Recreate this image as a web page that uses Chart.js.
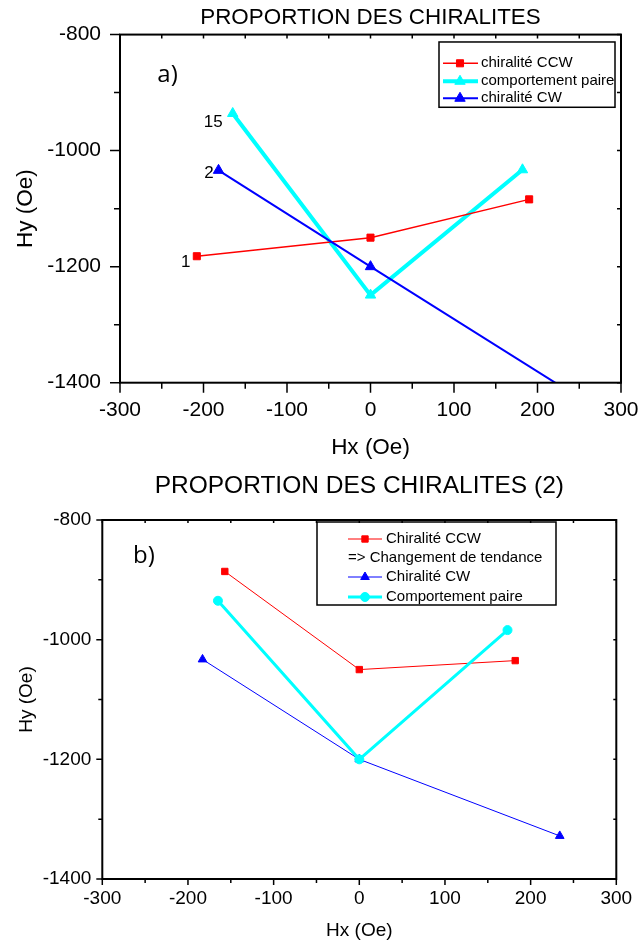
<!DOCTYPE html>
<html lang="fr">
<head>
<meta charset="utf-8">
<title>Proportion des chiralités</title>
<script src="https://cdn.jsdelivr.net/npm/chart.js@4/dist/chart.umd.min.js"></script>
<style>
	body { margin: 0; background: #fff; }
	#page { position: relative; width: 639px; height: 942px; }
	#page canvas { position: absolute; left: 0; }
	#chartA { top: 0; }
	#chartB { top: 470px; }
</style>
</head>
<body>
<div id="page">
	<canvas id="chartA" width="639" height="470"></canvas>
	<canvas id="chartB" width="639" height="472"></canvas>
</div>
<script>
(function () {

	'use strict';

	// a) proportion des chiralites
	var titleA  = 'PROPORTION DES CHIRALITES';
	var panelA  = 'a)';
	var legendA = ['chiralité CCW', 'comportement paire', 'chiralité CW'];
	var hxCcwA  = [-208, 0, 190];
	var hyCcwA  = [-1182, -1150, -1084];
	var hxPairA = [-165, 0, 182];
	var hyPairA = [-936, -1249, -1033];
	var hxCwA   = [-182, 0, 250];
	var hyCwA   = [-1034, -1200, -1426];
	var notesA  = ['1', '15', '2'];

	// b) proportion des chiralites (2)
	var titleB  = 'PROPORTION DES CHIRALITES (2)';
	var panelB  = 'b)';
	var legendB = ['Chiralité CCW', '=> Changement de tendance', 'Chiralité CW', 'Comportement paire'];
	var hxCcwB  = [-157, 0, 182];
	var hyCcwB  = [-886, -1050, -1035];
	var hxCwB   = [-183, 0, 234];
	var hyCwB   = [-1033, -1200, -1328];
	var hxPairB = [-165, 0, 173];
	var hyPairB = [-935, -1200, -984];

	// axes
	var hxTicks = [-300, -200, -100, 0, 100, 200, 300];
	var hyTicks = [-1400, -1200, -1000, -800];
	var hxTitle = 'Hx (Oe)';
	var hyTitle = 'Hy (Oe)';

	var FONT = '"Liberation Sans", Arial, sans-serif';
	Chart.defaults.font.family = FONT;
	Chart.defaults.color = '#000';

	function points(xs, ys) {
		return xs.map(function (x, i) {
			return {x: x, y: ys[i]};
		});
	}

	function series(label, xs, ys, color, width, style, radius, order) {
		return {
			label: label,
			data: points(xs, ys),
			showLine: true,
			borderColor: color,
			backgroundColor: color,
			pointBackgroundColor: color,
			pointBorderColor: color,
			borderWidth: width,
			pointStyle: style,
			pointRadius: radius,
			pointHoverRadius: radius,
			pointBorderWidth: 1,
			order: order
		};
	}

	function marker(ctx, ds, x, y) {
		var opts = {pointStyle: ds.pointStyle, radius: ds.pointRadius, rotation: 0, borderWidth: 1};
		ctx.fillStyle = ds.pointBackgroundColor;
		ctx.strokeStyle = ds.pointBorderColor;
		ctx.lineWidth = 1;
		Chart.helpers.drawPoint(ctx, opts, x, y);
	}

	// no extra room for overhanging tick labels, the plot box is fixed
	function noPadding(scale) {
		scale.paddingLeft = 0;
		scale.paddingRight = 0;
		scale.paddingTop = 0;
		scale.paddingBottom = 0;
	}

	// frame, tick marks, legend box and text notes
	function decoPlugin(cfg) {
		return {
			id: 'deco',
			afterDatasetsDraw: function (chart) {
				var ctx = chart.ctx;
				var area = chart.chartArea;
				var sx = chart.scales.x;
				var sy = chart.scales.y;
				var v, p, major;

				ctx.save();
				ctx.strokeStyle = '#000';
				ctx.lineWidth = 2;
				ctx.strokeRect(area.left, area.top, area.right - area.left, area.bottom - area.top);

				ctx.lineWidth = 1.5;
				ctx.beginPath();
				for (v = sx.min; v <= sx.max; v += 50) {
					p = sx.getPixelForValue(v);
					major = hxTicks.indexOf(v) !== -1;
					ctx.moveTo(p, area.bottom);
					ctx.lineTo(p, area.bottom + (major ? cfg.tickMajor : cfg.tickMinor));
					ctx.moveTo(p, area.top);
					ctx.lineTo(p, area.top + cfg.tickInner);
				}
				for (v = sy.min; v <= sy.max; v += 100) {
					p = sy.getPixelForValue(v);
					major = hyTicks.indexOf(v) !== -1;
					ctx.moveTo(area.left, p);
					ctx.lineTo(area.left - (major ? cfg.tickMajor : cfg.tickMinor), p);
					ctx.moveTo(area.right, p);
					ctx.lineTo(area.right - cfg.tickInner, p);
				}
				ctx.stroke();

				// legend
				var L = cfg.legend;
				var bx = area.left + L.left;
				var by = area.top + L.top;
				ctx.lineWidth = 1.5;
				ctx.strokeStyle = '#000';
				ctx.strokeRect(bx, by, L.width, L.height);
				ctx.font = L.font;
				ctx.textBaseline = 'middle';
				ctx.textAlign = 'left';
				L.items.forEach(function (item, i) {
					var y = by + L.rows[i];
					if (item.dataset === undefined) {
						ctx.fillStyle = '#000';
						ctx.fillText(item.text, bx + L.line[0], y);
						return;
					}
					var ds = chart.data.datasets[item.dataset];
					ctx.strokeStyle = ds.borderColor;
					ctx.lineWidth = ds.borderWidth;
					ctx.beginPath();
					ctx.moveTo(bx + L.line[0], y);
					ctx.lineTo(bx + L.line[1], y);
					ctx.stroke();
					marker(ctx, ds, bx + L.marker, y);
					ctx.fillStyle = '#000';
					ctx.fillText(ds.label, bx + L.text, y);
				});

				// panel letter
				ctx.fillStyle = '#000';
				ctx.textAlign = 'center';
				ctx.font = cfg.panel.font;
				ctx.fillText(cfg.panel.text, area.left + cfg.panel.dx, area.top + cfg.panel.dy);

				// numbers next to points
				(cfg.notes || []).forEach(function (n) {
					var pt = chart.getDatasetMeta(n.dataset).data[n.index];
					ctx.font = n.font;
					ctx.fillText(n.text, pt.x + n.dx, pt.y + n.dy);
				});
				ctx.restore();
			}
		};
	}

	function makeChart(id, title, datasets, box, deco) {
		return new Chart(document.getElementById(id), {
			type: 'scatter',
			data: {datasets: datasets},
			options: {
				responsive: false,
				animation: false,
				events: [],
				layout: {padding: {left: 0, top: 0, bottom: 0, right: box.padRight}},
				plugins: {
					legend: {display: false},
					tooltip: {enabled: false},
					title: {
						display: true,
						text: title,
						fullSize: false,
						color: '#000',
						font: {size: box.titleSize, weight: 'normal'},
						padding: {top: box.titlePad[0], bottom: box.titlePad[1]}
					}
				},
				scales: {
					x: {
						type: 'linear',
						min: -300,
						max: 300,
						afterBuildTicks: function (scale) {
							scale.ticks = hxTicks.map(function (v) { return {value: v}; });
						},
						afterFit: function (scale) {
							scale.height = box.xScaleH;
							noPadding(scale);
						},
						grid: {display: false, drawTicks: false},
						border: {display: false},
						ticks: {
							autoSkip: false,
							maxRotation: 0,
							padding: box.tickPadX,
							color: '#000',
							font: {size: box.tickSize},
							callback: function (v) { return String(v); }
						},
						title: {
							display: true,
							text: hxTitle,
							color: '#000',
							font: {size: box.axisSize},
							padding: {top: 0, bottom: box.xTitlePad}
						}
					},
					y: {
						type: 'linear',
						min: -1400,
						max: -800,
						afterBuildTicks: function (scale) {
							scale.ticks = hyTicks.map(function (v) { return {value: v}; });
						},
						afterFit: function (scale) {
							scale.width = box.yScaleW;
							noPadding(scale);
						},
						grid: {display: false, drawTicks: false},
						border: {display: false},
						ticks: {
							autoSkip: false,
							padding: box.tickPadY,
							color: '#000',
							font: {size: box.tickSize},
							callback: function (v) { return String(v); }
						},
						title: {
							display: true,
							text: hyTitle,
							color: '#000',
							font: {size: box.axisSize},
							padding: {top: box.yTitlePad, bottom: 0}
						}
					}
				}
			},
			plugins: [decoPlugin(deco)]
		});
	}

	makeChart('chartA', titleA, [
		series(legendA[0], hxCcwA, hyCcwA, '#ff0000', 1.5, 'rect', 5, 1),
		series(legendA[1], hxPairA, hyPairA, '#00ffff', 4, 'triangle', 6, 2),
		series(legendA[2], hxCwA, hyCwA, '#0000ff', 2, 'triangle', 6, 0)
	], {
		padRight: 18, titleSize: 22.4, titlePad: [4.1, 3.6],
		xScaleH: 87.3, yScaleW: 120, tickSize: 21, tickPadX: 15, tickPadY: 19,
		axisSize: 22.5, xTitlePad: 8.6, yTitlePad: 12.6
	}, {
		tickMajor: 10, tickMinor: 6, tickInner: 4,
		legend: {
			left: 319, top: 7.4, width: 176, height: 65.3,
			rows: [21.3, 39.3, 56.3], line: [4, 39], marker: 21, text: 42,
			font: '15px ' + FONT,
			items: [{dataset: 0}, {dataset: 1}, {dataset: 2}]
		},
		panel: {text: panelA, dx: 47.5, dy: 40.7, font: '24px "Open Sans", sans-serif'},
		notes: [
			{dataset: 0, index: 0, text: notesA[0], dx: -11, dy: 6, font: '17px ' + FONT},
			{dataset: 1, index: 0, text: notesA[1], dx: -19.5, dy: 9, font: '17px ' + FONT},
			{dataset: 2, index: 0, text: notesA[2], dx: -9.5, dy: 2.5, font: '17px ' + FONT}
		]
	});

	makeChart('chartB', titleB, [
		series(legendB[0], hxCcwB, hyCcwB, '#ff0000', 1, 'rect', 4.5, 1),
		series(legendB[2], hxCwB, hyCwB, '#0000ff', 1, 'triangle', 5, 2),
		series(legendB[3], hxPairB, hyPairB, '#00ffff', 3, 'circle', 4.5, 0)
	], {
		padRight: 22.7, titleSize: 24.5, titlePad: [1.8, 18.8],
		xScaleH: 63, yScaleW: 102.3, tickSize: 19, tickPadX: 8.6, tickPadY: 11,
		axisSize: 19, xTitlePad: 0, yTitlePad: 15
	}, {
		tickMajor: 6, tickMinor: 4, tickInner: 3,
		legend: {
			left: 214.7, top: 2, width: 239, height: 83,
			rows: [17, 36, 55, 75], line: [31, 65], marker: 48, text: 69,
			font: '15px ' + FONT,
			items: [{dataset: 0}, {text: legendB[1]}, {dataset: 1}, {dataset: 2}]
		},
		panel: {text: panelB, dx: 41.7, dy: 36.5, font: '24px "Open Sans", sans-serif'}
	});

})();
</script>
</body>
</html>
